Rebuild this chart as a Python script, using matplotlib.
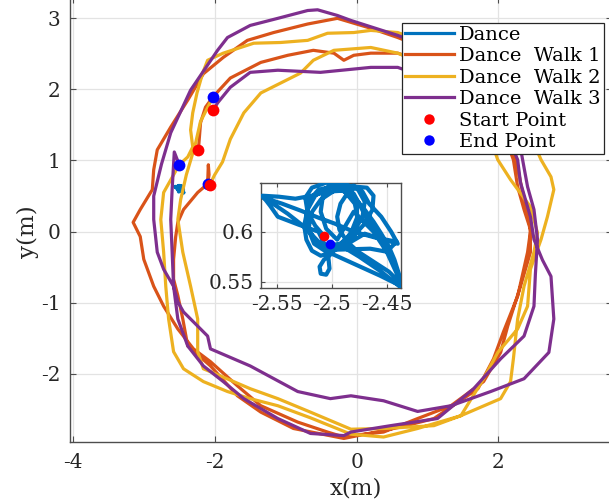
import matplotlib
matplotlib.use('Agg')
import matplotlib.pyplot as plt
from matplotlib.lines import Line2D

plt.rcParams['font.family'] = ['DejaVu Serif']
plt.rcParams['axes.unicode_minus'] = False

# ---------------- data ----------------
walk1_x = [-2.23, -2.20, -2.13, -2.02, -1.78, -1.35, -0.97, -0.61, -0.32, -0.18, -0.04, 0.20, 0.58, 1.20, 1.70, 2.05,
           2.21, 2.27, 2.36, 2.45, 2.45, 2.31, 2.13, 2.03, 1.79, 1.33, 0.86, 0.38, -0.08, -0.18, -0.41, -0.83, -1.35,
           -1.68, -2.06, -2.30, -2.52, -2.72, -2.86, -3.00, -3.05, -3.15, -3.05, -2.88, -2.86, -2.81, -2.62, -2.38,
           -2.16, -1.88, -1.54, -1.17, -0.69, -0.27, 0.20, 0.58, 1.30, 1.85, 2.15, 2.25, 2.33, 2.42, 2.45, 2.41, 2.27,
           2.07, 1.93, 1.71, 1.09, 0.62, -0.18, -0.89, -1.35, -1.68, -2.06, -2.38, -2.45, -2.52, -2.58, -2.58, -2.55,
           -2.52, -2.44, -2.24, -2.10, -2.08, -2.09, -2.10]
walk1_y = [1.15, 1.53, 1.75, 1.90, 2.16, 2.38, 2.48, 2.55, 2.51, 2.41, 2.48, 2.51, 2.51, 2.30, 1.92, 1.45,
           1.01, 0.63, 0.31, 0.03, -0.29, -0.77, -1.33, -1.70, -2.11, -2.45, -2.63, -2.82, -2.87, -2.89, -2.82, -2.68,
           -2.45, -2.17, -1.83, -1.65, -1.37, -1.05, -0.77, -0.39, -0.07, 0.13, 0.31, 0.59, 0.87, 1.15, 1.47, 1.85,
           2.22, 2.45, 2.69, 2.80, 2.92, 3.00, 2.86, 2.73, 2.45, 2.00, 1.50, 1.00, 0.60, 0.25, 0.00, -0.29, -0.91,
           -1.41, -1.79, -2.21, -2.63, -2.75, -2.91, -2.77, -2.54, -2.31, -1.89, -1.61, -1.23, -0.90, -0.67, -0.39,
           -0.07, 0.13, 0.31, 0.55, 0.67, 0.80, 0.94, 0.67]

walk2_x = [-2.07, -2.00, -1.89, -1.78, -1.59, -1.35, -1.07, -0.79, -0.61, -0.32, 0.20, 0.58, 1.20, 1.65, 1.85, 1.99,
           2.17, 2.45, 2.55, 2.50, 2.36, 2.27, 2.21, 2.17, 2.03, 1.47, 0.86, 0.38, -0.08, -0.65, -1.11, -1.50, -1.82,
           -2.16, -2.44, -2.58, -2.65, -2.69, -2.72, -2.76, -2.72, -2.50, -2.38, -2.31, -2.34, -2.31, -2.25, -2.17,
           -2.10, -1.88, -1.45, -1.07, -0.69, -0.41, -0.04, 0.20, 0.58, 1.40, 2.10, 2.45, 2.60, 2.74, 2.78, 2.69, 2.60,
           2.45, 2.41, 2.27, 1.99, 1.79, 1.47, 1.09, 0.38, -0.08, -0.65, -1.11, -1.50, -1.92, -2.16, -2.24, -2.24,
           -2.34, -2.45, -2.52, -2.48, -2.40, -2.28, -2.20, -2.02]
walk2_y = [0.66, 0.80, 0.98, 1.30, 1.67, 1.95, 2.09, 2.23, 2.41, 2.55, 2.59, 2.51, 2.25, 1.80, 1.40, 1.01,
           0.73, 0.35, -0.02, -0.29, -0.77, -1.23, -1.79, -2.11, -2.35, -2.59, -2.77, -2.89, -2.85, -2.62, -2.45,
           -2.35, -2.25, -2.11, -1.93, -1.69, -1.23, -0.77, -0.29, 0.17, 0.55, 0.94, 1.05, 1.19, 1.43, 1.67, 1.95,
           2.23, 2.41, 2.51, 2.65, 2.66, 2.69, 2.79, 2.80, 2.83, 2.80, 2.50, 1.90, 1.35, 1.01, 0.77, 0.59, 0.21,
           -0.11, -0.53, -1.05, -1.37, -1.70, -2.07, -2.59, -2.73, -2.77, -2.78, -2.54, -2.35, -2.21, -2.03, -1.93,
           -1.69, -1.23, -0.77, -0.29, 0.17, 0.45, 0.80, 1.20, 1.55, 1.90]

walk3_x = [-2.02, -1.96, -1.78, -1.50, -1.11, -0.51, 0.20, 0.58, 1.30, 1.85, 2.15, 2.27, 2.31, 2.45, 2.50, 2.62,
           2.74, 2.78, 2.71, 2.36, 1.89, 1.33, 0.86, 0.38, -0.08, -0.37, -0.83, -1.50, -2.06, -2.10, -2.44, -2.52,
           -2.58, -2.72, -2.81, -2.86, -2.86, -2.75, -2.62, -2.34, -1.96, -1.82, -1.50, -1.11, -0.69, -0.55, -0.27,
           -0.08, 0.58, 1.40, 2.00, 2.28, 2.34, 2.41, 2.50, 2.55, 2.52, 2.50, 2.36, 2.03, 1.65, 1.14, 0.48, -0.08,
           -0.18, -0.65, -1.11, -1.59, -1.88, -2.16, -2.38, -2.52, -2.58, -2.60, -2.62, -2.60, -2.57, -2.50]
walk3_y = [1.71, 1.81, 2.03, 2.24, 2.27, 2.24, 2.31, 2.31, 2.05, 1.62, 1.30, 1.01, 0.69, 0.21, -0.11, -0.40,
           -0.63, -1.23, -1.70, -2.07, -2.25, -2.45, -2.53, -2.38, -2.31, -2.35, -2.25, -1.89, -1.65, -1.47, -1.13,
           -0.99, -0.77, -0.53, -0.29, 0.17, 0.50, 0.95, 1.39, 1.99, 2.55, 2.73, 2.90, 3.00, 3.11, 3.12, 3.04,
           2.97, 2.76, 2.45, 1.90, 1.35, 1.01, 0.63, 0.31, -0.11, -0.60, -1.05, -1.47, -1.79, -2.21, -2.63, -2.73,
           -2.82, -2.87, -2.84, -2.63, -2.35, -2.11, -1.89, -1.61, -1.23, -0.77, -0.29, 0.17, 0.60, 1.12, 0.94]

dance_x = [-2.507, -2.515, -2.522, -2.524, -2.518, -2.505, -2.492, -2.482, -2.477, -2.477, -2.482, -2.490, -2.500,
           -2.510, -2.518, -2.523, -2.525, -2.522, -2.515, -2.503, -2.490, -2.480, -2.474,
           -2.468, -2.460, -2.452, -2.446, -2.441, -2.437,
           -2.445, -2.456, -2.468, -2.480, -2.492, -2.500,
           -2.507, -2.511, -2.510, -2.505, -2.502, -2.503, -2.506,
           -2.512, -2.530, -2.549, -2.556, -2.563,
           -2.548, -2.533, -2.518, -2.505, -2.490, -2.480,
           -2.470, -2.462, -2.455, -2.448, -2.443, -2.439, -2.437,
           -2.448, -2.462, -2.476, -2.486, -2.493, -2.495, -2.492, -2.486,
           -2.478, -2.468, -2.462, -2.463, -2.470, -2.480, -2.492, -2.503, -2.512,
           -2.525, -2.540, -2.552, -2.562,
           -2.545, -2.528, -2.512, -2.497, -2.480, -2.460, -2.441, -2.450, -2.465,
           -2.497, -2.487, -2.479, -2.476, -2.479, -2.488, -2.500, -2.512, -2.520, -2.523, -2.520, -2.512, -2.500,
           -2.490, -2.480, -2.472, -2.470, -2.476, -2.488, -2.500, -2.508, -2.510, -2.505, -2.495,
           -2.480, -2.462, -2.450, -2.440, -2.438, -2.455, -2.475, -2.490,
           -2.470, -2.452, -2.440, -2.446, -2.455, -2.466, -2.472, -2.480,
           -2.495, -2.510, -2.519, -2.521, -2.516, -2.505,
           -2.485, -2.496, -2.5016]
dance_y = [0.5957, 0.606, 0.620, 0.634, 0.644, 0.649, 0.647, 0.640, 0.628, 0.614, 0.600, 0.588, 0.579,
           0.576, 0.581, 0.592, 0.606, 0.622, 0.636, 0.645, 0.646, 0.638, 0.626,
           0.612, 0.600, 0.588, 0.575, 0.562, 0.546,
           0.550, 0.556, 0.562, 0.568, 0.574, 0.578,
           0.572, 0.565, 0.558, 0.557, 0.563, 0.574, 0.586,
           0.600, 0.607, 0.615, 0.626, 0.636,
           0.635, 0.633, 0.636, 0.640, 0.641, 0.635,
           0.622, 0.610, 0.598, 0.585, 0.572, 0.558, 0.548,
           0.560, 0.570, 0.580, 0.590, 0.602, 0.615, 0.628, 0.638,
           0.645, 0.644, 0.636, 0.622, 0.608, 0.596, 0.588, 0.585, 0.590,
           0.605, 0.618, 0.627, 0.634,
           0.628, 0.621, 0.614, 0.608, 0.600, 0.594, 0.590, 0.580, 0.583,
           0.582, 0.586, 0.597, 0.612, 0.628, 0.640, 0.645, 0.642, 0.632, 0.617, 0.600, 0.587, 0.580,
           0.590, 0.600, 0.615, 0.630, 0.642, 0.648, 0.646, 0.636, 0.620, 0.603, 0.592,
           0.620, 0.600, 0.580, 0.556, 0.545, 0.560, 0.575, 0.585,
           0.598, 0.592, 0.588, 0.600, 0.615, 0.628, 0.640, 0.646,
           0.643, 0.632, 0.618, 0.602, 0.588, 0.580,
           0.586, 0.587, 0.5877]

series_labels = ['Dance', 'Dance  Walk 1', 'Dance  Walk 2', 'Dance  Walk 3']
series_colors = ['#0072BD', '#D95319', '#EDB120', '#7E2F8E']
marker_labels = ['Start Point', 'End Point']

# ---------------- figure ----------------
fig = plt.figure(figsize=(6.09, 5.0), dpi=100)
W, H = 609.0, 500.0
ax = fig.add_axes([70 / W, 58 / H, 542 / W, 445 / H])

lw = 2.3
ax.plot(dance_x, dance_y, color=series_colors[0], lw=lw, zorder=3)
walks = [(walk1_x, walk1_y), (walk2_x, walk2_y), (walk3_x, walk3_y)]
for (wx, wy), c in zip(walks, series_colors[1:]):
    ax.plot(wx, wy, color=c, lw=lw, zorder=3, solid_joinstyle='round')
for wx, wy in walks:
    ax.plot(wx[0], wy[0], 'o', color='#FF0000', ms=8.5, mew=0, zorder=5)
    ax.plot(wx[-1], wy[-1], 'o', color='#0000FF', ms=8.5, mew=0, zorder=4)

ax.set_xlim(-4.04, 3.60)
ax.set_ylim(-2.96, 3.30)
ax.set_xticks([-4, -2, 0, 2])
ax.set_yticks([-2, -1, 0, 1, 2, 3])
ax.grid(True, color='#E3E3E3', lw=0.9)
ax.set_axisbelow(True)
spine_c = '#4D4D4D'
for s in ax.spines.values():
    s.set_color(spine_c)
    s.set_linewidth(1.0)
ax.tick_params(direction='in', length=4, width=0.8, color=spine_c, labelsize=14.5,
               labelcolor='#262626', top=True, right=True)
ax.tick_params(axis='x', pad=8)
ax.tick_params(axis='y', pad=7)
ax.set_xlabel('x(m)', fontsize=16.5, color='#262626')
ax.set_ylabel('y(m)', fontsize=16.5, color='#262626')
ax.xaxis.set_label_coords((356 - 70) / 542, (442 - 489) / 445)
ax.yaxis.set_label_coords((28 - 70) / 542, (442 - 232) / 445)
ax.xaxis.label.set_va('center')
ax.yaxis.label.set_va('center')

# legend
handles = [Line2D([], [], color=c, lw=2.3) for c in series_colors]
handles += [Line2D([], [], ls='none', marker='o', ms=7.5, mew=0, color='#FF0000'),
            Line2D([], [], ls='none', marker='o', ms=7.5, mew=0, color='#0000FF')]
leg = ax.legend(handles, series_labels + marker_labels, loc='upper right',
                bbox_to_anchor=(603.5 / W, 1 - 22.7 / H), bbox_transform=fig.transFigure,
                borderaxespad=0, fontsize=14, frameon=True, fancybox=False,
                edgecolor='#262626', framealpha=1, handlelength=2.55, handletextpad=0.25,
                labelspacing=0.18, borderpad=0.15)
leg.get_frame().set_linewidth(0.9)
leg.set_zorder(10)

# inset
ins = fig.add_axes([260.5 / W, (H - 288.3) / H, 140.2 / W, 105.6 / H])
ins.plot(dance_x, dance_y, color=series_colors[0], lw=3.0, zorder=3, solid_joinstyle='round')
ins.plot(dance_x[0], dance_y[0], 'o', color='#FF0000', ms=7, mew=0, zorder=5)
ins.plot(dance_x[-1], dance_y[-1], 'o', color='#0000FF', ms=7, mew=0, zorder=5)
ins.set_xlim(-2.5647, -2.4373)
ins.set_ylim(0.5434, 0.649)
ins.set_xticks([-2.55, -2.5, -2.45])
ins.set_xticklabels(['-2.55', '-2.5', '-2.45'])
ins.set_yticks([0.55, 0.6])
ins.set_yticklabels(['0.55', '0.6'])
ins.grid(True, color='#E3E3E3', lw=0.9)
ins.set_axisbelow(True)
for s in ins.spines.values():
    s.set_color(spine_c)
    s.set_linewidth(1.0)
ins.tick_params(direction='in', length=3, width=0.8, color=spine_c, labelsize=14.5,
                labelcolor='#262626', top=True, right=True, pad=5)

fig.savefig('out.png', dpi=100)
